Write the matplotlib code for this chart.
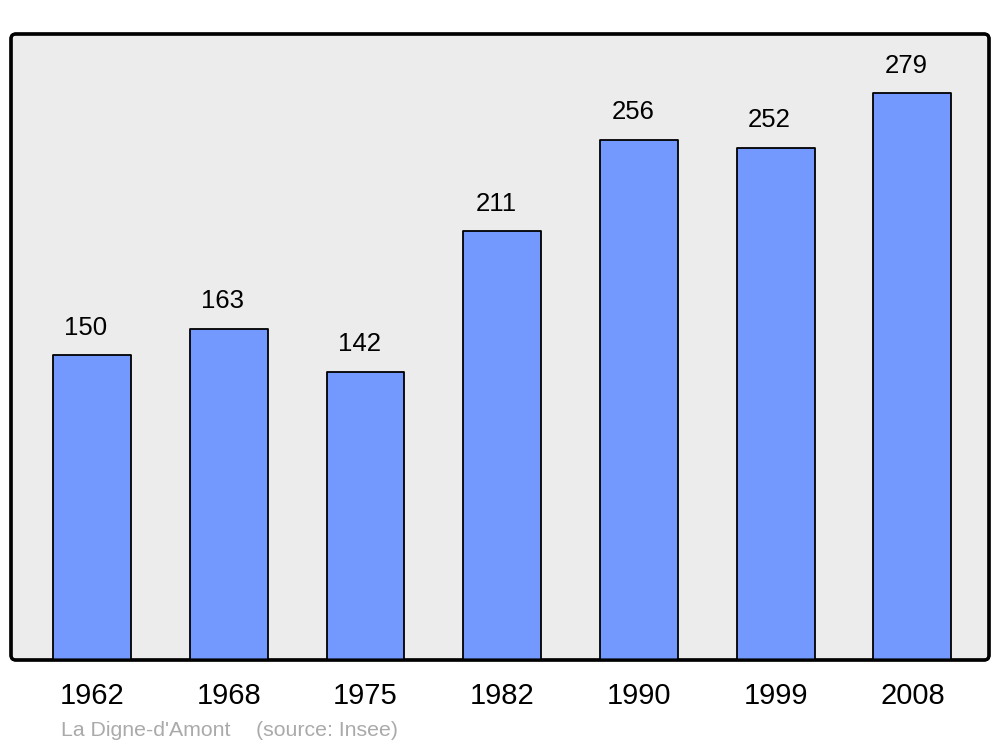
import matplotlib.pyplot as plt
from matplotlib.patches import FancyBboxPatch

plt.rcParams['font.family'] = ['Liberation Sans', 'DejaVu Sans']

years = ["1962", "1968", "1975", "1982", "1990", "1999", "2008"]
population = [150, 163, 142, 211, 256, 252, 279]
place = "La Digne-d'Amont"
source = "(source: Insee)"

fig = plt.figure(figsize=(10, 7.47), dpi=100)
ax = fig.add_axes([0.011, 87 / 747, 0.978, 626 / 747])
ax.set_facecolor('none')

xs = list(range(len(years)))
ax.bar(xs, population, width=0.57, color='#7399ff', edgecolor='black',
       linewidth=1.3, joinstyle='round', zorder=2)

for x, v in zip(xs, population):
    ax.annotate(str(v), (x, v), xytext=(-4.5, 20), textcoords='offset points',
                ha='center', va='center', fontsize=18.5)

ax.set_xlim(-0.593, 6.56)
ax.set_ylim(0, 308.2)
ax.set_yticks([])
ax.set_xticks(xs, years, fontsize=21)
ax.tick_params(axis='x', length=0, pad=16)
for s in ax.spines.values():
    s.set_visible(False)

# rounded frame
frame = FancyBboxPatch((0, 0), 1, 1, boxstyle="round,pad=0,rounding_size=0.005",
                       mutation_aspect=978 / 626, transform=ax.transAxes,
                       facecolor='#ececec', edgecolor='black', linewidth=2.3,
                       zorder=0, clip_on=False)
ax.add_patch(frame)
frame2 = FancyBboxPatch((0, 0), 1, 1, boxstyle="round,pad=0,rounding_size=0.005",
                        mutation_aspect=978 / 626, transform=ax.transAxes,
                        facecolor='none', edgecolor='black', linewidth=2.3,
                        zorder=3, clip_on=False)
ax.add_patch(frame2)

fig.text(61 / 1000, 1 - 731 / 747, place, color='#aaaaaa', fontsize=15.3, va='center')
fig.text(256 / 1000, 1 - 731 / 747, source, color='#aaaaaa', fontsize=15.3, va='center')

fig.savefig('out.png', dpi=100, facecolor='white')
